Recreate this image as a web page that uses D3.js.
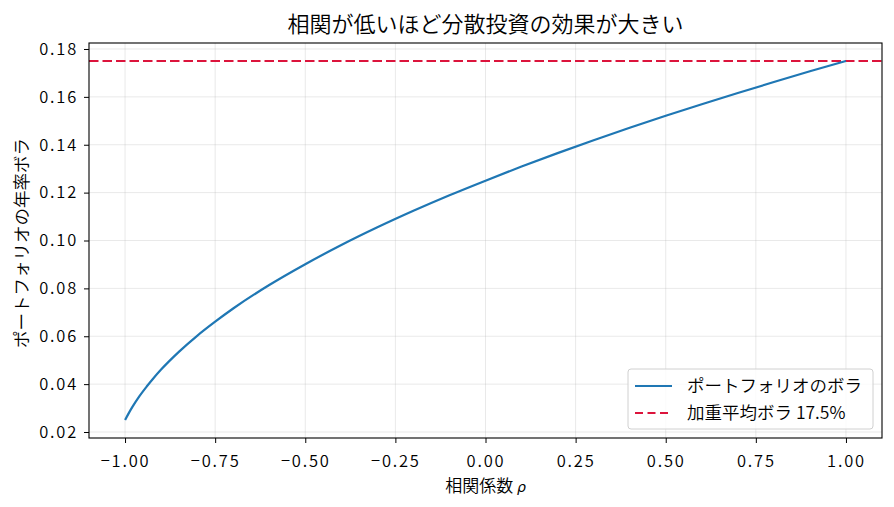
<!DOCTYPE html>
<html>
<head>
<meta charset="utf-8">
<script src="https://cdn.jsdelivr.net/npm/d3@7.9.0/dist/d3.min.js"></script>
<style>
  body { margin: 0; background: #fff; }
  svg { display: block; font-family: "Noto Sans CJK JP", "Noto Sans", sans-serif; font-weight: 350; }
</style>
</head>
<body>
<svg id="chart" width="894" height="507"></svg>
<script>
// correlation values (x) and portfolio volatility (y)
const rho = [-1.0, -0.99, -0.98, -0.96, -0.94, -0.92, -0.9, -0.85, -0.8, -0.75, -0.7,
  -0.6, -0.5, -0.4, -0.3, -0.2, -0.1, 0.0, 0.1, 0.2, 0.3, 0.4, 0.5, 0.6, 0.7, 0.8, 0.9, 1.0];
const portVol = [0.025, 0.0278, 0.0304, 0.035, 0.039, 0.0427, 0.0461, 0.0536, 0.0602, 0.0661, 0.0716,
  0.0814, 0.0901, 0.0981, 0.1055, 0.1124, 0.1189, 0.125, 0.1309, 0.1365, 0.1419, 0.1471, 0.1521,
  0.1569, 0.1616, 0.1662, 0.1707, 0.175];
const weightedAvg = 0.175;
const xTicks = [-1.0, -0.75, -0.5, -0.25, 0.0, 0.25, 0.5, 0.75, 1.0];
const yTicks = [0.02, 0.04, 0.06, 0.08, 0.10, 0.12, 0.14, 0.16, 0.18];
const legendLabels = ['ポートフォリオのボラ', '加重平均ボラ 17.5%'];

const blue = '#1f77b4';
const red = '#dc143c';

const svg = d3.select('#chart');
const pLeft = 89, pRight = 882, pTop = 43, pBottom = 438;

const x = d3.scaleLinear().domain([-1.1, 1.1]).range([pLeft, pRight]);
const y = d3.scaleLinear().domain([0.0175, 0.1825]).range([pBottom, pTop]);

// grid
const grid = svg.append('g').attr('stroke', '#b0b0b0').attr('stroke-opacity', 0.35).attr('stroke-width', 0.8);
grid.selectAll('line.gx').data(xTicks).join('line').attr('class', 'gx')
  .attr('x1', d => x(d)).attr('x2', d => x(d)).attr('y1', pTop).attr('y2', pBottom);
grid.selectAll('line.gy').data(yTicks).join('line').attr('class', 'gy')
  .attr('y1', d => y(d)).attr('y2', d => y(d)).attr('x1', pLeft).attr('x2', pRight);

// axes
const fmt = d => d3.format('.2f')(d).replace('-', '\u2212');
const xAxis = d3.axisBottom(x).tickValues(xTicks).tickFormat(fmt).tickSizeOuter(0).tickSize(5).tickPadding(12);
const yAxis = d3.axisLeft(y).tickValues(yTicks).tickFormat(fmt).tickSizeOuter(0).tickSize(5).tickPadding(6);

const gx = svg.append('g').attr('transform', `translate(0,${pBottom})`).call(xAxis);
const gy = svg.append('g').attr('transform', `translate(${pLeft},0)`).call(yAxis);
[gx, gy].forEach(g => {
  g.select('.domain').remove();
  g.selectAll('.tick line').attr('stroke', '#000').attr('stroke-width', 1);
  g.selectAll('.tick text').attr('fill', '#000').style('font-size', '16.5px')
    .style('letter-spacing', '1.8px')
    .style('font-family', '"Noto Sans CJK JP", sans-serif');
});

// lines
const clipId = 'plotclip';
svg.append('clipPath').attr('id', clipId).append('rect')
  .attr('x', pLeft).attr('y', pTop).attr('width', pRight - pLeft).attr('height', pBottom - pTop);

svg.append('line')
  .attr('clip-path', `url(#${clipId})`)
  .attr('x1', pLeft).attr('x2', pRight)
  .attr('y1', y(weightedAvg)).attr('y2', y(weightedAvg))
  .attr('stroke', red).attr('stroke-width', 2).attr('stroke-dasharray', '9.5,4');

const line = d3.line().x((d, i) => x(rho[i])).y(d => y(d)).curve(d3.curveMonotoneX);
svg.append('path')
  .datum(portVol)
  .attr('d', line)
  .attr('fill', 'none')
  .attr('stroke', blue)
  .attr('stroke-width', 2.2);

// frame
svg.append('rect')
  .attr('x', pLeft).attr('y', pTop).attr('width', pRight - pLeft).attr('height', pBottom - pTop)
  .attr('fill', 'none').attr('stroke', '#000').attr('stroke-width', 1.1);

// title and labels
svg.append('text').attr('x', (pLeft + pRight) / 2).attr('y', 32)
  .attr('text-anchor', 'middle').style('font-size', '22px')
  .text('相関が低いほど分散投資の効果が大きい');

const xl = svg.append('text').attr('x', (pLeft + pRight) / 2).attr('y', 492)
  .attr('text-anchor', 'middle').style('font-size', '17px');
xl.append('tspan').text('相関係数 ');
xl.append('tspan').style('font-family', '"DejaVu Sans", sans-serif').style('font-style', 'italic')
  .style('font-weight', 400).style('font-size', '14px').text('ρ');

svg.append('text')
  .attr('transform', `translate(28,243) rotate(-90)`)
  .attr('text-anchor', 'middle').style('font-size', '17.5px')
  .text('ポートフォリオの年率ボラ');

// legend
const lg = svg.append('g').attr('transform', 'translate(628,369)');
lg.append('rect').attr('width', 245).attr('height', 60).attr('rx', 3)
  .attr('fill', '#fff').attr('fill-opacity', 0.8).attr('stroke', '#d0d0d0');
const items = lg.selectAll('g.item').data(legendLabels).join('g')
  .attr('transform', (d, i) => `translate(0,${17 + i * 27})`);
items.append('line').attr('x1', 7).attr('x2', 44)
  .attr('stroke', (d, i) => i === 0 ? blue : red)
  .attr('stroke-width', 2.2)
  .attr('stroke-dasharray', (d, i) => i === 0 ? null : '8,4.5');
items.append('text').attr('x', 59).attr('dy', '0.36em')
  .style('font-size', '17.5px').text(d => d);
</script>
</body>
</html>
